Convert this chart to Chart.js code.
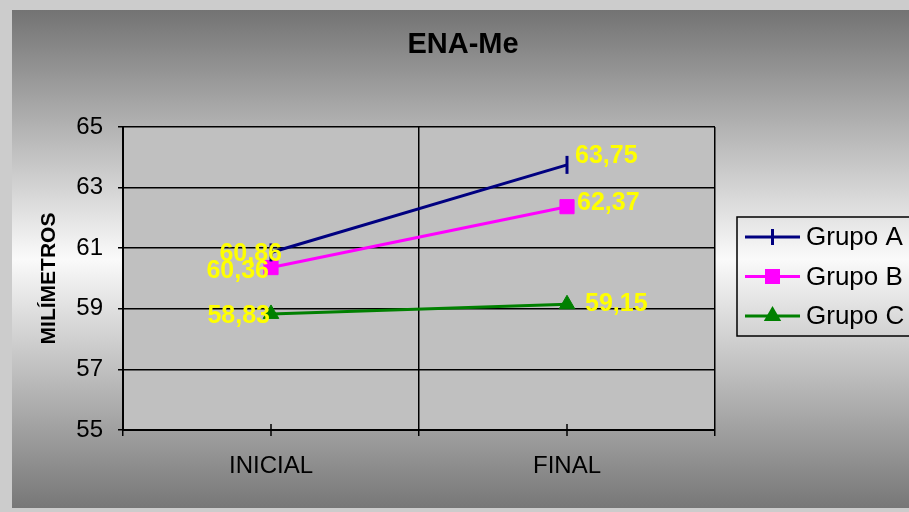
<!DOCTYPE html>
<html lang="es">
<head>
<meta charset="UTF-8">
<title>ENA-Me</title>
<script src="https://cdn.jsdelivr.net/npm/chart.js"></script>
<style>
    html, body {
        margin: 0;
        padding: 0;
        background: #cccccc;
    }
    #wrap {
        width: 909px;
        height: 512px;
    }
</style>
</head>
<body>
<div id="wrap"><canvas id="enaChart" width="909" height="512"></canvas></div>
<script>
    // Datos: medida ENA-Me (mm) por grupo, inicial y final
    const etapas = ['INICIAL', 'FINAL'];
    const nombres = ['Grupo A', 'Grupo B', 'Grupo C'];
    const grupoA = [60.86, 63.75];
    const grupoB = [60.36, 62.37];
    const grupoC = [58.83, 59.15];
    const yMin = 55;
    const yMax = 65;
    const yPaso = 2;

    const FUENTE = "'Liberation Sans', Arial, Helvetica, sans-serif";

    // desplazamiento de cada etiqueta respecto a su punto [dx, dy, alineación]
    const posEtiquetas = [
        [[11, 2, 'right'], [8, -9, 'left']],
        [[-2, 4, 'right'], [10, -4, 'left']],
        [[-1, 2, 'right'], [18, 0, 'left']]
    ];

    function dibujarMarcador(ctx, estilo, color, x, y, r) {
        ctx.save();
        ctx.fillStyle = color;
        ctx.strokeStyle = color;
        ctx.beginPath();
        if (estilo === 'line') {
            ctx.lineWidth = 3;
            ctx.moveTo(x, y - r);
            ctx.lineTo(x, y + r);
            ctx.stroke();
        } else if (estilo === 'rect') {
            const s = r * 0.75;
            ctx.rect(x - s, y - s, s * 2, s * 2);
            ctx.fill();
        } else {
            ctx.moveTo(x, y - r);
            ctx.lineTo(x + r * 0.87, y + r * 0.5);
            ctx.lineTo(x - r * 0.87, y + r * 0.5);
            ctx.closePath();
            ctx.fill();
        }
        ctx.restore();
    }

    // fondo degradado, marco claro y área de trazado gris
    const fondo = {
        id: 'fondo',
        beforeDraw(chart) {
            const ctx = chart.ctx;
            const a = chart.chartArea;
            ctx.save();
            ctx.fillStyle = '#cccccc';
            ctx.fillRect(0, 0, chart.width, chart.height);
            const g = ctx.createLinearGradient(0, 10, 0, 508);
            g.addColorStop(0, '#737373');
            g.addColorStop(0.5, '#fafafa');
            g.addColorStop(1, '#777777');
            ctx.fillStyle = g;
            ctx.fillRect(12, 10, chart.width - 12, 498);
            ctx.fillStyle = '#c0c0c0';
            ctx.fillRect(a.left, a.top, a.right - a.left, a.bottom - a.top);
            ctx.restore();
        },
        afterDraw(chart) {
            const ctx = chart.ctx;
            ctx.save();
            ctx.fillStyle = '#000';
            ctx.font = 'bold 29px ' + FUENTE;
            ctx.textAlign = 'center';
            ctx.textBaseline = 'middle';
            ctx.fillText('ENA-Me', 463, 45);
            ctx.restore();
        }
    };

    // marcas pequeñas en el eje X en cada categoría
    const marcasX = {
        id: 'marcasX',
        afterDraw(chart) {
            const ctx = chart.ctx;
            const x = chart.scales.x;
            ctx.save();
            ctx.strokeStyle = '#000';
            ctx.lineWidth = 1.5;
            etapas.forEach((e, i) => {
                const px = x.getPixelForValue(i);
                ctx.beginPath();
                ctx.moveTo(px, x.top - 6);
                ctx.lineTo(px, x.top + 6);
                ctx.stroke();
            });
            ctx.restore();
        }
    };

    // valores en amarillo junto a cada punto
    const etiquetas = {
        id: 'etiquetas',
        afterDatasetsDraw(chart) {
            const ctx = chart.ctx;
            ctx.save();
            ctx.font = 'bold 25px ' + FUENTE;
            ctx.fillStyle = '#ffff00';
            ctx.textBaseline = 'middle';
            chart.data.datasets.forEach((ds, i) => {
                const meta = chart.getDatasetMeta(i);
                meta.data.forEach((pt, j) => {
                    const [dx, dy, al] = posEtiquetas[i][j];
                    ctx.textAlign = al;
                    const txt = ds.data[j].toFixed(2).replace('.', ',');
                    ctx.fillText(txt, pt.x + dx, pt.y + dy);
                });
            });
            ctx.restore();
        }
    };

    // leyenda con recuadro a la derecha
    const leyenda = {
        id: 'leyenda',
        afterDraw(chart) {
            const ctx = chart.ctx;
            ctx.save();
            ctx.strokeStyle = '#000';
            ctx.lineWidth = 1.5;
            ctx.strokeRect(737, 217, 200, 119);
            ctx.font = '26px ' + FUENTE;
            ctx.textBaseline = 'middle';
            ctx.textAlign = 'left';
            chart.data.datasets.forEach((ds, i) => {
                const y = 237 + i * 39.5;
                ctx.strokeStyle = ds.borderColor;
                ctx.lineWidth = 3;
                ctx.beginPath();
                ctx.moveTo(745, y);
                ctx.lineTo(800, y);
                ctx.stroke();
                dibujarMarcador(ctx, ds.pointStyle, ds.borderColor, 772.5, y, ds.pointStyle === 'line' ? 8 : 10);
                ctx.fillStyle = '#000';
                ctx.fillText(ds.label, 806, y + 1);
            });
            ctx.restore();
        }
    };

    const ctx = document.getElementById('enaChart').getContext('2d');
    new Chart(ctx, {
        type: 'line',
        data: {
            labels: etapas,
            datasets: [
                {
                    label: nombres[0],
                    data: grupoA,
                    borderColor: '#000080',
                    backgroundColor: '#000080',
                    borderWidth: 3,
                    pointStyle: 'line',
                    pointRotation: 90,
                    pointRadius: 9,
                    pointBorderWidth: 3,
                    tension: 0
                },
                {
                    label: nombres[1],
                    data: grupoB,
                    borderColor: '#ff00ff',
                    backgroundColor: '#ff00ff',
                    borderWidth: 3,
                    pointStyle: 'rect',
                    pointRadius: 10,
                    pointBorderWidth: 1,
                    tension: 0
                },
                {
                    label: nombres[2],
                    data: grupoC,
                    borderColor: '#008000',
                    backgroundColor: '#008000',
                    borderWidth: 3,
                    pointStyle: 'triangle',
                    pointRadius: 9,
                    pointBorderWidth: 1,
                    tension: 0
                }
            ]
        },
        options: {
            responsive: false,
            devicePixelRatio: 1,
            animation: false,
            layout: {
                padding: { left: 12, right: 194, top: 127, bottom: 4 }
            },
            scales: {
                x: {
                    offset: true,
                    ticks: {
                        color: '#000',
                        font: { size: 24, family: FUENTE },
                        padding: 16
                    },
                    grid: {
                        offset: true,
                        color: '#000',
                        lineWidth: 1.5,
                        tickLength: 6
                    },
                    border: { color: '#000', width: 2 },
                    afterFit: s => { s.height = 78; }
                },
                y: {
                    min: yMin,
                    max: yMax,
                    ticks: {
                        stepSize: yPaso,
                        color: '#000',
                        font: { size: 24, family: FUENTE },
                        padding: 15
                    },
                    grid: {
                        color: '#000',
                        lineWidth: 1.5,
                        tickLength: 5
                    },
                    border: { color: '#000', width: 2 },
                    title: {
                        display: true,
                        text: 'MILÍMETROS',
                        color: '#000',
                        font: { size: 21, weight: 'bold', family: FUENTE },
                        padding: { top: 25, bottom: 0 }
                    },
                    afterFit: s => { s.width = 111; }
                }
            },
            plugins: {
                legend: { display: false },
                title: { display: false },
                tooltip: { enabled: false }
            }
        },
        plugins: [fondo, marcasX, etiquetas, leyenda]
    });
</script>
</body>
</html>
